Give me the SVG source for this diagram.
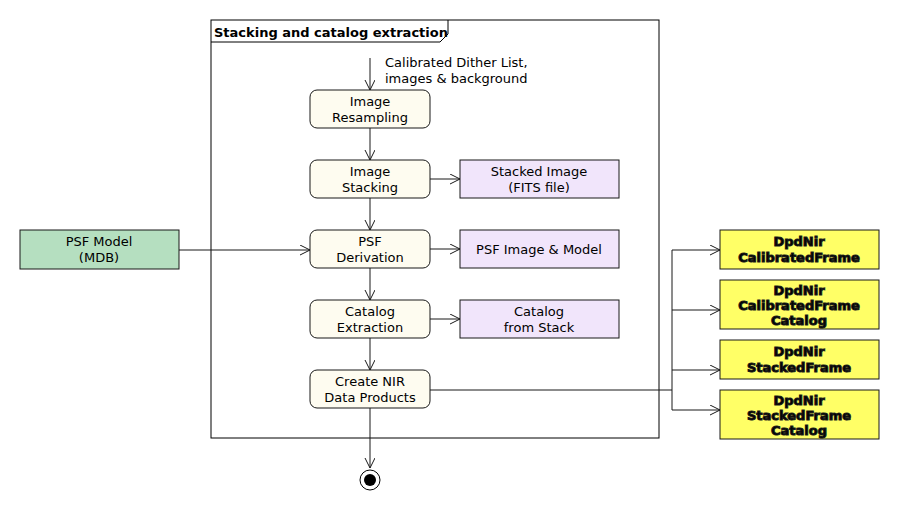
<svg xmlns="http://www.w3.org/2000/svg" width="900" height="510" viewBox="0 0 900 510">
<style>
text{font-family:"DejaVu Sans","Liberation Sans",sans-serif;font-size:13px;text-anchor:middle;fill:#000}
.act{fill:#fefcf0;stroke:#181818;stroke-width:1}
.art{fill:#f1e5fb;stroke:#181818;stroke-width:1}
.ext{fill:#b5dfc0;stroke:#181818;stroke-width:1}
.out{fill:#ffff66;stroke:#181818;stroke-width:1}
.out text,.b{font-weight:bold}
.c{fill:none;stroke:#181818;stroke-width:1;marker-end:url(#a)}
.l{fill:none;stroke:#181818;stroke-width:1}
</style>
<defs><marker id="a" markerWidth="12" markerHeight="12" refX="10" refY="5" orient="auto" markerUnits="userSpaceOnUse"><path d="M0,0 L10,5 L0,10" fill="none" stroke="#181818"/></marker></defs>
<rect width="900" height="510" fill="#fff"/>
<g id="frame">
<rect x="211" y="20" width="448" height="418" fill="none" stroke="#000"/>
<path d="M211,42 H440 L448,34 V20" fill="none" stroke="#000"/>
<text x="214" y="37" class="b" style="text-anchor:start">Stacking and catalog extraction</text>
</g>
<g id="connectors">
<path class="c" d="M370,58 V90"/>
<text x="385" y="67" style="text-anchor:start">Calibrated Dither List,</text>
<text x="385" y="83" style="text-anchor:start">images &amp; background</text>
<path class="c" d="M370,128 V160"/>
<path class="c" d="M370,198 V230"/>
<path class="c" d="M370,268 V300"/>
<path class="c" d="M370,338 V370"/>
<path class="c" d="M430,179 H460"/>
<path class="c" d="M430,249 H460"/>
<path class="c" d="M430,319 H460"/>
<path class="c" d="M179,250 H310"/>
<path class="c" d="M370,408 V468"/>
<path class="l" d="M430,390 H672"/>
<path class="c" d="M672,250 H720"/>
<path class="c" d="M672,310 H720"/>
<path class="c" d="M672,370 H720"/>
<path class="c" d="M672,410 H720"/>
<path class="l" d="M672,250 V410"/>
</g>
<g id="resampling"><rect class="act" x="310" y="90" width="120" height="38" rx="7"/><text x="370" y="106">Image</text><text x="370" y="122">Resampling</text></g>
<g id="stacking"><rect class="act" x="310" y="160" width="120" height="38" rx="7"/><text x="370" y="176">Image</text><text x="370" y="192">Stacking</text></g>
<g id="psf"><rect class="act" x="310" y="230" width="120" height="38" rx="7"/><text x="370" y="246">PSF</text><text x="370" y="262">Derivation</text></g>
<g id="catalog"><rect class="act" x="310" y="300" width="120" height="38" rx="7"/><text x="370" y="316">Catalog</text><text x="370" y="332">Extraction</text></g>
<g id="create"><rect class="act" x="310" y="370" width="120" height="38" rx="7"/><text x="370" y="386">Create NIR</text><text x="370" y="402">Data Products</text></g>
<g id="stackedimg"><rect class="art" x="460" y="160" width="159" height="38"/><text x="539" y="176">Stacked Image</text><text x="539" y="192">(FITS file)</text></g>
<g id="psfimg"><rect class="art" x="460" y="230" width="159" height="38"/><text x="539" y="254">PSF Image &amp; Model</text></g>
<g id="catstack"><rect class="art" x="460" y="300" width="159" height="38"/><text x="539" y="316">Catalog</text><text x="539" y="332">from Stack</text></g>
<g id="psfmodel"><rect class="ext" x="20" y="230" width="159" height="39"/><text x="99" y="246">PSF Model</text><text x="99" y="262">(MDB)</text></g>
<g id="o1" class="out"><rect x="720" y="230" width="159" height="39"/><text x="799" y="246">DpdNir</text><text x="799" y="262">CalibratedFrame</text></g>
<g id="o2" class="out"><rect x="720" y="280" width="159" height="49"/><text x="799" y="295">DpdNir</text><text x="799" y="310">CalibratedFrame</text><text x="799" y="325">Catalog</text></g>
<g id="o3" class="out"><rect x="720" y="340" width="159" height="39"/><text x="799" y="356">DpdNir</text><text x="799" y="372">StackedFrame</text></g>
<g id="o4" class="out"><rect x="720" y="390" width="159" height="49"/><text x="799" y="405">DpdNir</text><text x="799" y="420">StackedFrame</text><text x="799" y="435">Catalog</text></g>
<g id="final"><circle cx="370" cy="480" r="10" fill="#fff" stroke="#000"/><circle cx="370" cy="480" r="6" fill="#000"/></g>
</svg>
